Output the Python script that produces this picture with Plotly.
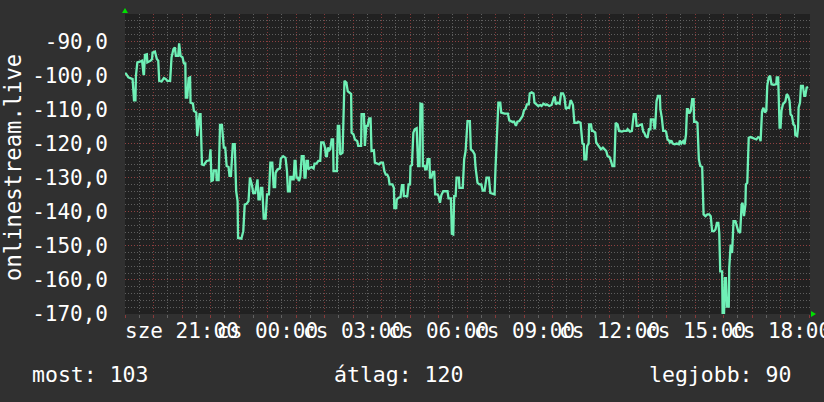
import pandas as pd
import plotly.graph_objects as go

# minutes after the start of the window (sze 19:00) and the measured value
minutes = [
    0, 2, 7, 16, 19, 22, 23, 26, 33, 36, 39, 40, 42, 46, 47, 54, 57, 58, 63, 67,
    70, 72, 77, 82, 86, 89, 95, 98, 102, 105, 107, 112, 114, 117, 121, 124, 127, 128, 131, 134,
    137, 138, 143, 145, 150, 152, 154, 157, 159, 162, 166, 172, 178, 180, 182, 185, 187, 192, 193, 197,
    199, 200, 204, 208, 211, 214, 218, 220, 223, 225, 227, 231, 234, 237, 238, 245, 249, 252, 256, 260,
    263, 267, 270, 274, 279,
    281, 284, 286, 289, 292, 296, 299, 303, 306, 310, 313, 316, 317, 321, 326, 328, 333, 338, 341, 343,
    347, 348, 351, 352, 355, 357, 359, 361, 364, 366, 369, 372, 376, 378, 380, 382, 385, 386, 390, 393,
    397, 399, 403, 407, 411, 413, 418, 421, 423, 425, 427, 430, 432, 435, 438, 439, 446, 448, 451, 453,
    458, 460, 462, 466, 469, 473, 476, 477, 481, 484, 489, 491, 497, 498, 503, 505, 508, 511, 514, 517,
    519, 524, 526, 535, 538, 543, 546, 549, 552, 555, 557, 563, 566, 567,
    571, 572, 576, 580, 583, 586, 587, 592, 594, 597, 600, 601, 604, 607, 610, 614, 617, 620, 621, 622,
    626, 627, 631, 632, 635, 637, 641, 642, 645, 648, 651, 653, 658, 660, 663, 666, 670, 679, 681, 686,
    687, 688, 691, 693, 696, 697, 698, 703, 704, 711, 714, 717, 721, 726, 728, 732, 736, 738, 742, 746,
    750, 753, 757, 761, 766, 769, 776, 778, 780, 783, 786, 790, 792, 799, 806, 809, 815, 819, 823, 826,
    830, 837, 840, 843, 846, 850, 851,
    852, 856, 860, 862, 866, 870, 874, 877, 881, 886, 888, 893, 898, 903, 905, 907, 911, 915, 918, 922,
    925, 928, 931, 935, 938, 940, 943, 946, 952, 954, 959, 960, 963, 966, 967, 971, 973, 976, 977, 981,
    983, 985, 990, 992, 995, 999, 1002, 1006, 1011, 1013, 1016, 1020, 1023, 1026, 1030, 1033, 1037, 1040, 1046, 1050,
    1056, 1058, 1063, 1067, 1071, 1075, 1077, 1081, 1084, 1088, 1091, 1093, 1096, 1100, 1103, 1106, 1107, 1112, 1115, 1116,
    1119, 1122, 1126, 1127, 1130, 1133, 1137,
    1139, 1142, 1145, 1147, 1150, 1153, 1157, 1161, 1166, 1168, 1171, 1175, 1178, 1181, 1183, 1185, 1188, 1191, 1194, 1197,
    1198, 1202, 1205, 1208, 1211, 1215, 1218, 1222, 1226, 1230, 1233, 1236, 1240, 1243, 1246, 1249, 1251, 1253, 1257, 1258,
    1261, 1263, 1265, 1267, 1271, 1272, 1275, 1278, 1281, 1285, 1288, 1291, 1295, 1298, 1300, 1303, 1306, 1307, 1310, 1312,
    1313, 1317, 1323, 1329, 1333, 1336, 1338, 1341, 1344, 1347, 1350, 1352, 1355, 1358, 1361, 1366, 1371, 1372, 1375, 1376,
    1378, 1380, 1382, 1385, 1390, 1393, 1396, 1399, 1401, 1404, 1407, 1410, 1411, 1415, 1417, 1418, 1421, 1423, 1427, 1430,
    1432, 1435, 1438,
]
values = [
    -99.5, -99.5, -100.6, -101.1, -107.3, -107.3, -100.1, -96.2, -95.9, -95.7, -99.6, -99.6, -94.0, -93.8, -96.2, -95.7, -95.2, -93.3, -93.0, -95.2,
    -95.7, -101.6, -101.8, -100.8, -101.1, -101.6, -101.6, -94.7, -92.3, -91.8, -94.3, -94.3, -90.6, -94.3, -94.7, -96.5, -96.5, -106.5, -106.5, -100.8,
    -100.6, -108.0, -108.3, -110.4, -110.9, -117.8, -115.3, -111.4, -111.4, -126.1, -126.3, -125.1, -124.9, -121.7, -131.0, -130.8, -127.9, -127.9, -130.7, -130.7,
    -120.2, -114.5, -114.5, -121.2, -121.2, -126.6, -126.9, -129.5, -129.5, -123.2, -120.2, -120.2, -134.0, -136.9, -147.7, -147.9, -145.7, -137.9, -137.7, -136.9,
    -130.0, -132.0, -134.5, -134.5, -130.5,
    -136.4, -136.4, -133.0, -133.0, -142.0, -142.0, -134.9, -134.9, -125.6, -125.6, -132.8, -132.8, -128.6, -127.6, -127.3, -124.4, -123.7, -124.2, -128.1, -134.0,
    -134.0, -129.8, -129.8, -130.5, -130.5, -125.1, -125.1, -130.0, -130.0, -131.0, -129.8, -123.7, -123.7, -130.0, -130.0, -125.1, -125.1, -127.6, -127.1, -126.9,
    -127.3, -125.9, -125.9, -125.1, -125.1, -119.7, -119.7, -121.2, -123.7, -123.7, -121.2, -122.0, -121.7, -118.8, -118.8, -128.1, -128.1, -114.8, -114.8, -123.2,
    -122.7, -114.4, -101.6, -102.1, -104.7, -105.1, -105.5, -116.8, -117.3, -118.8, -119.3, -120.7, -120.7, -111.4, -111.4, -120.7, -114.8, -114.8, -112.6, -112.6,
    -122.2, -122.0, -125.6, -126.1, -125.6, -125.6, -128.1, -129.1, -129.1, -130.0, -132.0, -132.0, -133.0, -138.9,
    -138.9, -136.4, -135.9, -135.7, -132.2, -132.2, -135.4, -135.4, -135.7, -132.0, -132.0, -126.6, -126.3, -116.8, -115.8, -115.5, -126.6, -126.6, -114.4, -108.3,
    -108.5, -126.6, -126.6, -127.6, -127.6, -124.6, -124.6, -130.0, -130.0, -128.3, -128.3, -134.9, -134.9, -135.4, -137.4, -135.1, -134.0, -134.0, -136.1, -136.1,
    -140.8, -146.5, -146.7, -135.4, -135.4, -133.0, -130.0, -130.0, -133.0, -133.0, -124.6, -122.2, -113.4, -113.4, -121.7, -122.2, -123.2, -127.1, -131.5, -132.0,
    -132.0, -133.8, -133.8, -130.0, -130.0, -134.5, -134.9, -134.9, -127.1, -114.4, -108.0, -108.0, -110.9, -111.2, -111.2, -113.2, -113.6, -113.6, -114.8, -113.6,
    -113.4, -111.9, -110.2, -109.9, -108.5, -108.5, -105.5,
    -105.3, -105.0, -105.3, -108.0, -108.5, -109.0, -108.7, -109.0, -108.3, -108.7, -108.5, -109.0, -108.7, -106.5, -106.5, -108.5, -108.0, -108.3, -105.3, -105.3,
    -106.3, -109.9, -109.5, -109.5, -107.3, -107.7, -108.7, -113.9, -113.9, -113.6, -113.9, -116.3, -120.0, -120.2, -124.6, -124.6, -120.7, -120.0, -114.4, -114.4,
    -116.3, -116.3, -116.8, -119.7, -120.2, -121.2, -121.7, -121.2, -122.0, -122.2, -123.7, -124.0, -125.1, -126.6, -126.6, -113.9, -114.4, -116.3, -116.5, -116.3,
    -116.3, -115.8, -116.5, -116.3, -111.4, -111.4, -114.8, -114.8, -114.5, -114.4, -116.5, -116.8, -117.8, -118.3, -115.8, -115.8, -112.9, -112.9, -115.8, -115.3,
    -107.5, -106.0, -106.0, -109.9, -112.4, -116.3, -116.3,
    -116.5, -118.8, -119.1, -119.7, -119.1, -120.0, -120.2, -120.0, -120.2, -119.1, -120.0, -119.3, -120.2, -117.3, -109.9, -109.9, -111.2, -110.4, -107.0, -107.0,
    -113.6, -113.6, -113.9, -124.6, -126.6, -126.9, -140.8, -141.3, -140.8, -140.8, -141.3, -145.7, -145.7, -145.2, -143.3, -143.3, -146.2, -157.5, -157.5, -170.0,
    -170.0, -159.5, -159.5, -167.8, -167.8, -156.5, -149.6, -152.1, -142.8, -142.8, -144.7, -145.7, -146.2, -137.9, -137.4, -141.3, -137.9, -132.0, -131.5, -125.1,
    -118.3, -118.1, -118.5, -118.8, -118.1, -118.3, -119.3, -110.6, -109.5, -110.9, -110.4, -103.1, -100.6, -100.1, -102.6, -102.8, -102.6, -100.6, -100.6, -108.5,
    -115.3, -115.3, -110.4, -108.5, -107.7, -105.5, -106.0, -107.5, -111.4, -111.9, -114.4, -114.8, -117.5, -117.8, -115.3, -109.5, -108.0, -103.1, -103.1, -106.0,
    -106.0, -103.6, -103.4,
]

y_ticks = [-170, -160, -150, -140, -130, -120, -110, -100, -90]
y_labels = ["-170,0", "-160,0", "-150,0", "-140,0", "-130,0", "-120,0", "-110,0", "-100,0", "-90,0"]
x_tick_hours = [2, 5, 8, 11, 14, 17, 20, 23]
x_tick_labels = ["sze 21:00", "cs 00:00", "cs 03:00", "cs 06:00",
                 "cs 09:00", "cs 12:00", "cs 15:00", "cs 18:00"]
stats = ["most: 103", "átlag: 120", "legjobb: 90"]
y_title = "onlinestream.live"

start = pd.Timestamp("2023-09-13 19:00")
times = start + pd.to_timedelta(minutes, unit="min")
end = start + pd.Timedelta(minutes=1442)

FONT = "DejaVu Sans Mono"
BG = "#303030"
PLOT_BG = "#212121"
MAJOR = "rgba(150,60,60,0.85)"
MINOR = "rgba(110,110,110,0.8)"

fig = go.Figure()
fig.add_trace(go.Scatter(
    x=times, y=values, mode="lines",
    line=dict(color="#6ff0b6", width=2.3),
    showlegend=False, hoverinfo="skip",
))

fig.update_layout(
    width=824, height=402,
    margin=dict(l=125, r=14, t=14, b=88),
    paper_bgcolor=BG, plot_bgcolor=PLOT_BG,
    font=dict(family=FONT, size=21, color="white"),
    showlegend=False,
)

fig.update_xaxes(
    type="date", range=[start, end],
    tickmode="linear", tick0=start, dtick=3600000,
    showticklabels=False,
    ticks="outside", ticklen=3, tickcolor=MAJOR,
    showgrid=True, gridcolor=MAJOR, gridwidth=1, griddash="1px,2px",
    minor=dict(tickmode="linear", tick0=start, dtick=1800000,
               showgrid=True, gridcolor=MINOR, gridwidth=1, griddash="1px,2px",
               ticks="outside", ticklen=3, tickcolor=MINOR),
    zeroline=False, showline=False,
)

fig.update_yaxes(
    range=[-170, -82],
    tickmode="array", tickvals=y_ticks, ticktext=y_labels,
    tickfont=dict(family=FONT, size=21, color="white"),
    ticks="", ticklabelstandoff=16,
    showgrid=True, gridcolor=MAJOR, gridwidth=1, griddash="1px,2px",
    minor=dict(tickmode="linear", tick0=-170, dtick=2,
               showgrid=True, gridcolor=MINOR, gridwidth=1, griddash="1px,2px"),
    zeroline=False, showline=False,
)

annotations = []
# time labels under the plot (they overlap, as in the original)
for h, lab in zip(x_tick_hours, x_tick_labels):
    annotations.append(dict(
        x=start + pd.Timedelta(hours=h), y=-0.057, xref="x", yref="paper",
        text=lab, showarrow=False, xanchor="center", yanchor="middle",
        font=dict(family=FONT, size=21, color="white"),
    ))

# vertical axis title
annotations.append(dict(
    x=(13 - 125) / 685, y=0.487, xref="paper", yref="paper",
    text=y_title, textangle=-90, showarrow=False,
    xanchor="center", yanchor="middle",
    font=dict(family=FONT, size=22.2, color="white"),
))

# summary line at the bottom
stat_centers = [90, 398, 720]
for cx, txt in zip(stat_centers, stats):
    annotations.append(dict(
        x=(cx - 125) / 685, y=(314 - 374.5) / 300, xref="paper", yref="paper",
        text=txt, showarrow=False, xanchor="center", yanchor="middle",
        font=dict(family=FONT, size=21.5, color="white"),
    ))
fig.update_layout(annotations=annotations)

# little green arrow heads at the ends of the axes
fig.add_shape(type="path", xref="paper", yref="paper",
              xsizemode="pixel", ysizemode="pixel", xanchor=0, yanchor=1,
              path="M -3,1 L 3,1 L 0,6 Z",
              fillcolor="#00e000", line=dict(width=0))
fig.add_shape(type="path", xref="paper", yref="paper",
              xsizemode="pixel", ysizemode="pixel", xanchor=1, yanchor=0,
              path="M 1,-3 L 1,3 L 6,0 Z",
              fillcolor="#00e000", line=dict(width=0))

# the page body has a default 8px margin; drop it so the figure sits at the corner
fig.write_html("out.html", config={"displayModeBar": False},
               post_script="document.body.style.margin='0';")
